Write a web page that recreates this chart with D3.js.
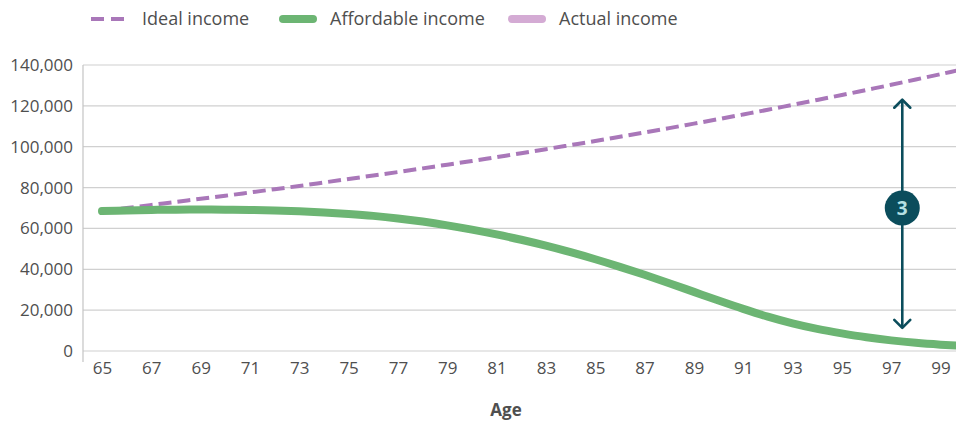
<!DOCTYPE html>
<html>
<head>
<meta charset="utf-8">
<script src="https://cdn.jsdelivr.net/npm/d3@7"></script>
<style>
  body { margin: 0; background: #fff; }
  text { font-family: "Open Sans", sans-serif; fill: #4f4f4f; }
</style>
</head>
<body>
<div id="chart"></div>
<script>
// Data
var ages = d3.range(65, 101);
var idealIncome = [68500, 70000, 71500, 73000, 74500, 76000, 77600, 79200, 80800, 82500,
  84200, 85900, 87600, 89400, 91200, 93000, 94900, 96800, 98800, 100800,
  102800, 104900, 107000, 109100, 111300, 113500, 115800, 118100, 120500, 122900,
  125300, 127800, 130300, 132900, 135500, 138200];
var affordableIncome = [68500, 68800, 69050, 69200, 69250, 69200, 69050, 68800, 68400, 67850,
  67100, 66150, 64900, 63350, 61500, 59400, 57050, 54450, 51550, 48350,
  44900, 41200, 37300, 33200, 28950, 24700, 20600, 16800, 13500, 10800,
  8600, 6700, 5200, 4000, 3100, 2400];
var yTicks = [0, 20000, 40000, 60000, 80000, 100000, 120000, 140000];
var xTicks = d3.range(65, 100, 2);
var legendItems = ["Ideal income", "Affordable income", "Actual income"];
// gap annotation: age, top, bottom, badge
var gapArrow = { age: 97.45, top: 123000, bottom: 11300, badge: 70000, label: "3" };

var svgWidth = 956;
var svgHeight = 422;

var svg = d3.select("#chart")
  .append("svg")
  .attr("width", svgWidth)
  .attr("height", svgHeight);

// Scales
var xScale = d3.scaleLinear().domain([65, 99]).range([102, 940.5]);
var yScale = d3.scaleLinear().domain([0, 140000]).range([351, 65]);

// Gridlines
svg.append("g")
  .selectAll("line")
  .data(yTicks)
  .enter()
  .append("line")
  .attr("x1", 83)
  .attr("x2", svgWidth)
  .attr("y1", d => yScale(d))
  .attr("y2", d => yScale(d))
  .attr("stroke", "#d0d0d0")
  .attr("stroke-width", 1.2);

// Y axis
var leftAxis = d3.axisLeft(yScale)
  .tickValues(yTicks)
  .tickSize(0)
  .tickPadding(10)
  .tickFormat(d3.format(","));
var yAxis = svg.append("g")
  .attr("transform", "translate(83,0)")
  .call(leftAxis);
yAxis.select(".domain").remove();
yAxis.selectAll("text")
  .style("font-size", "17px")
  .attr("fill", "#4f4f4f");
svg.append("line")
  .attr("x1", 83).attr("x2", 83)
  .attr("y1", 65).attr("y2", 362)
  .attr("stroke", "#c4c4c4")
  .attr("stroke-width", 1.2);

// X axis
var bottomAxis = d3.axisBottom(xScale)
  .tickValues(xTicks)
  .tickSize(0)
  .tickPadding(11)
  .tickFormat(d3.format("d"));
var xAxis = svg.append("g")
  .attr("transform", "translate(0,351)")
  .call(bottomAxis);
xAxis.select(".domain").remove();
xAxis.selectAll("text")
  .style("font-size", "17px")
  .attr("fill", "#4f4f4f");

svg.append("text")
  .attr("x", 506)
  .attr("y", 416)
  .attr("text-anchor", "middle")
  .style("font-size", "17px")
  .style("font-weight", "bold")
  .text("Age");

// Lines
var line = d3.line()
  .x((d, i) => xScale(ages[i]))
  .y(d => yScale(d))
  .curve(d3.curveCatmullRom);

svg.append("path")
  .datum(idealIncome)
  .attr("d", line)
  .attr("fill", "none")
  .attr("stroke", "#a977b9")
  .attr("stroke-width", 4)
  .attr("stroke-dasharray", "13 6");

svg.append("path")
  .datum(affordableIncome)
  .attr("d", line)
  .attr("fill", "none")
  .attr("stroke", "#6cb573")
  .attr("stroke-width", 8)
  .attr("stroke-linecap", "round");

// Gap annotation
var ax = xScale(gapArrow.age);
var aTop = yScale(gapArrow.top);
var aBot = yScale(gapArrow.bottom);
var teal = "#0b4d5c";
svg.append("line")
  .attr("x1", ax).attr("x2", ax)
  .attr("y1", aTop + 1).attr("y2", aBot - 1)
  .attr("stroke", teal)
  .attr("stroke-width", 2.6);
svg.append("path")
  .attr("d", `M${ax - 8},${aTop + 8} L${ax},${aTop} L${ax + 8},${aTop + 8}`)
  .attr("fill", "none")
  .attr("stroke", teal)
  .attr("stroke-width", 2.6)
  .attr("stroke-linecap", "round")
  .attr("stroke-linejoin", "round");
svg.append("path")
  .attr("d", `M${ax - 8},${aBot - 8} L${ax},${aBot} L${ax + 8},${aBot - 8}`)
  .attr("fill", "none")
  .attr("stroke", teal)
  .attr("stroke-width", 2.6)
  .attr("stroke-linecap", "round")
  .attr("stroke-linejoin", "round");
svg.append("circle")
  .attr("cx", ax)
  .attr("cy", yScale(gapArrow.badge))
  .attr("r", 17.5)
  .attr("fill", teal);
svg.append("text")
  .attr("x", ax)
  .attr("y", yScale(gapArrow.badge))
  .attr("dy", "0.36em")
  .attr("text-anchor", "middle")
  .style("font-size", "19px")
  .style("font-weight", "bold")
  .style("fill", "#b5e0e3")
  .text(gapArrow.label);

// Legend
var legend = svg.append("g");
var legendX = [89, 279, 508];
var legendTextX = [142, 330, 559];

legend.append("line")
  .attr("x1", legendX[0] + 2).attr("x2", legendX[0] + 35)
  .attr("y1", 19).attr("y2", 19)
  .attr("stroke", "#a977b9")
  .attr("stroke-width", 4)
  .attr("stroke-dasharray", "13 7");
legend.append("line")
  .attr("x1", legendX[1] + 4).attr("x2", legendX[1] + 34)
  .attr("y1", 19).attr("y2", 19)
  .attr("stroke", "#6cb573")
  .attr("stroke-width", 8)
  .attr("stroke-linecap", "round");
legend.append("line")
  .attr("x1", legendX[2] + 4).attr("x2", legendX[2] + 34)
  .attr("y1", 19).attr("y2", 19)
  .attr("stroke", "#d4abd4")
  .attr("stroke-width", 8)
  .attr("stroke-linecap", "round");

legend.selectAll("text")
  .data(legendItems)
  .enter()
  .append("text")
  .attr("x", (d, i) => legendTextX[i])
  .attr("y", 19)
  .attr("dy", "0.35em")
  .style("font-size", "18px")
  .text(d => d);
</script>
</body>
</html>
